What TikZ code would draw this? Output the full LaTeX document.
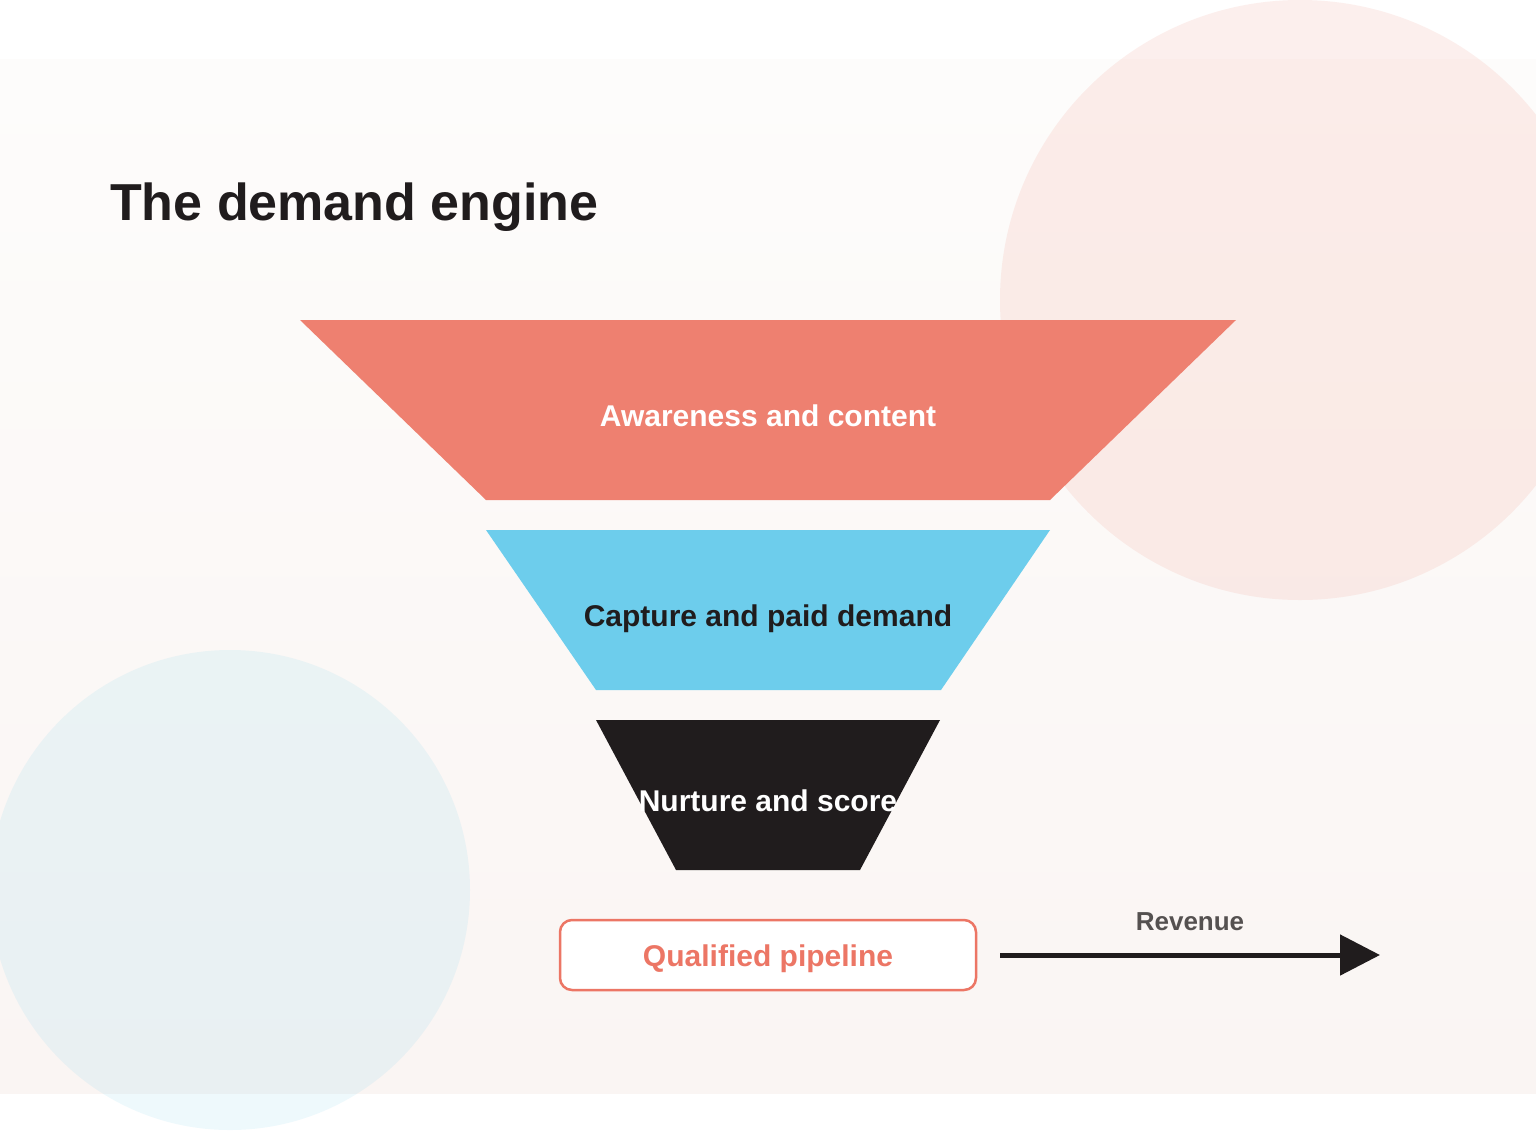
\documentclass[tikz,border=0pt]{standalone}
\usepackage{fontspec}
\setmainfont{Liberation Sans}
\usetikzlibrary{arrows.meta}
\definecolor{coral}{HTML}{EE8070}
\definecolor{coralline}{HTML}{EC7665}
\definecolor{sky}{HTML}{6DCDEC}
\definecolor{ink}{HTML}{201C1D}
\definecolor{bgtop}{HTML}{FDFCFB}
\definecolor{bgbot}{HTML}{FAF5F3}
\definecolor{pinkc}{HTML}{EE7F6C}
\definecolor{bluec}{HTML}{5BC8EB}
\definecolor{revgray}{HTML}{555150}
\tikzset{
  stagetext/.style={font=\bfseries\fontsize{30}{34}\selectfont, inner sep=0pt, anchor=base},
  blob/.style={fill opacity=0.12, draw=none},
}
\begin{document}
\begin{tikzpicture}[x=1pt,y=-1pt]
\useasboundingbox (0,0) rectangle (1536,1130);
\fill[white] (0,0) rectangle (1536,1130);
\shade[top color=bgtop, bottom color=bgbot] (0,59) rectangle (1536,1093);
% decorative circles
\fill[pinkc, blob] (1300,300) circle[radius=300];
\fill[bluec, blob, fill opacity=0.1] (230,890) circle[radius=240];
% title
\node[anchor=base west, inner sep=0pt, text=ink, font=\bfseries\fontsize{52}{58}\selectfont] (title) at (110,220) {The demand engine};
% funnel
\fill[coral] (300,320) -- (1236,320) -- (1050,500) -- (486,500) -- cycle;
\fill[sky] (486,530) -- (1050,530) -- (941,690) -- (596,690) -- cycle;
\fill[ink] (596,720) -- (940,720) -- (860,870) -- (676,870) -- cycle;
\node[stagetext, text=white] (s1) at (768,426) {Awareness and content};
\node[stagetext, text=ink] (s2) at (768,626) {Capture and paid demand};
\node[stagetext, text=white] (s3) at (768,811) {Nurture and score};
% pipeline box
\node[draw=coralline, line width=2.5pt, fill=white, rounded corners=12pt,
      minimum width=416pt, minimum height=70pt] (pipe) at (768,955) {};
\node[stagetext, text=coralline] (pipetext) at (768,966) {Qualified pipeline};
% revenue arrow
\coordinate (arrS) at (1000,955);
\coordinate (arrE) at (1380,955);
\draw[ink, line width=5pt, -{Triangle[length=40pt,width=40pt]}] (arrS) -- (arrE);
\node[text=revgray, font=\bfseries\fontsize{26}{30}\selectfont, inner sep=0pt, anchor=base] (rev) at (1190,930) {Revenue};
\end{tikzpicture}
\end{document}
